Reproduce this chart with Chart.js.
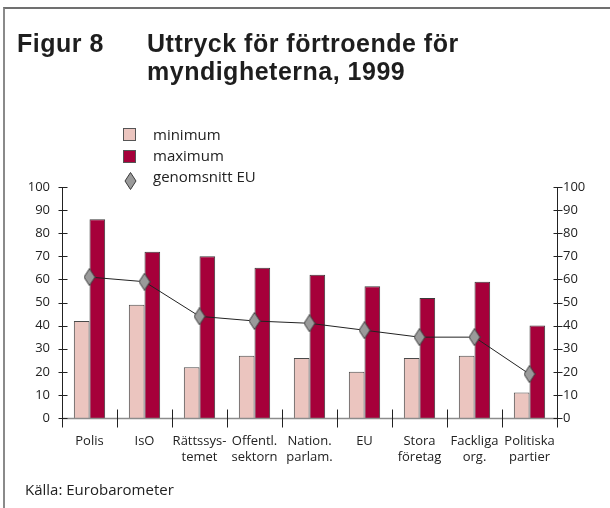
<!DOCTYPE html>
<html><head><meta charset="utf-8">
<script src="https://cdn.jsdelivr.net/npm/chart.js@4"></script>
<style>
html,body{margin:0;padding:0;background:#fff;}
#wrap{position:relative;width:610px;height:508px;overflow:hidden;font-family:"Open Sans",sans-serif;color:#222;}
#frame{position:absolute;left:3px;top:7px;right:-5px;bottom:-5px;border-top:2px solid #707070;border-left:2px solid #8a8a8a;}
#c{position:absolute;left:0;top:0;}
.t{position:absolute;font-family:"Liberation Sans",Arial,sans-serif;font-weight:bold;font-size:25px;letter-spacing:0.5px;line-height:28px;color:#1e1e1e;white-space:nowrap;}
.lg{position:absolute;font-size:15px;line-height:22px;white-space:nowrap;color:#222;}
.box{position:absolute;width:11px;height:11px;border:1px solid #555;}
</style></head>
<body>
<div id="wrap">
  <div id="frame"></div>
  <canvas id="c" width="610" height="508"></canvas>
  <div class="t" style="left:17px;top:29px;">Figur 8</div>
  <div class="t" style="left:147px;top:29px;">Uttryck för förtroende för<br>myndigheterna, 1999</div>
  <div class="box" style="left:123px;top:128px;background:#ebc5bf;"></div>
  <div class="lg" style="left:153px;top:123px;">minimum</div>
  <div class="box" style="left:123px;top:150px;background:#a6003a;"></div>
  <div class="lg" style="left:153px;top:144px;">maximum</div>
  <svg style="position:absolute;left:124px;top:172px;" width="13" height="18"><path d="M6.5 0.5 L12 9 L6.5 17.5 L1 9 Z" fill="#9a9a9a" stroke="#3a3a3a" stroke-width="1"/></svg>
  <div class="lg" style="left:153px;top:165px;">genomsnitt EU</div>
  <div class="lg" style="left:25px;top:478px;">Källa: Eurobarometer</div>
</div>
<script>
const categories = [['Polis'], ['IsO'], ['Rättssys-','temet'], ['Offentl.','sektorn'], ['Nation.','parlam.'], ['EU'], ['Stora','företag'], ['Fackliga','org.'], ['Politiska','partier']];
const minimumValues = [42, 49, 22, 27, 26, 20, 26, 27, 11];
const maximumValues = [86, 72, 70, 65, 62, 57, 52, 59, 40];
const euAverage = [61, 59, 44, 42, 41, 38, 35, 35, 19];
const yTicks = [0, 10, 20, 30, 40, 50, 60, 70, 80, 90, 100];

const diamond = document.createElement('canvas');
diamond.width = 12; diamond.height = 18;
(function(){
  const g = diamond.getContext('2d');
  g.beginPath();
  g.moveTo(6, 0.5); g.lineTo(11.5, 9); g.lineTo(6, 17.5); g.lineTo(0.5, 9); g.closePath();
  g.fillStyle = '#9a9a9a'; g.fill();
  g.strokeStyle = '#3a3a3a'; g.lineWidth = 1; g.stroke();
})();

const axesPlugin = {
  id: 'axesPlugin',
  afterDatasetsDraw(chart) {
    const ctx = chart.ctx, a = chart.chartArea;
    const x = chart.scales.x, y = chart.scales.y;
    const y0 = Math.round(y.getPixelForValue(0)) + 0.5;
    ctx.save();
    ctx.strokeStyle = '#8c8c8c'; ctx.lineWidth = 1.5;
    ctx.beginPath(); ctx.moveTo(a.left, y0); ctx.lineTo(a.right, y0); ctx.stroke();
    ctx.strokeStyle = '#222'; ctx.lineWidth = 1;
    const L = Math.round(a.left) + 0.5, R = Math.round(a.right) + 0.5;
    ctx.beginPath();
    ctx.moveTo(L, a.top); ctx.lineTo(L, y0 + 9);
    ctx.moveTo(R, a.top); ctx.lineTo(R, y0 + 9);
    yTicks.forEach(v => {
      const py = Math.round(y.getPixelForValue(v)) + 0.5;
      ctx.moveTo(L - 4, py); ctx.lineTo(L + 5, py);
      ctx.moveTo(R - 4, py); ctx.lineTo(R + 5, py);
    });
    for (let i = 1; i < categories.length; i++) {
      const px = Math.round((x.getPixelForValue(i - 1) + x.getPixelForValue(i)) / 2) + 0.5;
      ctx.moveTo(px, y0 - 9); ctx.lineTo(px, y0 + 9);
    }
    ctx.stroke();
    ctx.restore();
  }
};

const tickFont = { family: '"Open Sans", sans-serif', size: 13, lineHeight: '16px' };
const noGrid = { display: false, drawTicks: false };

new Chart(document.getElementById('c'), {
  type: 'bar',
  data: {
    labels: categories,
    datasets: [
      { type: 'line', label: 'genomsnitt EU', data: euAverage, order: 0, yAxisID: 'y',
        borderColor: '#222', borderWidth: 1, tension: 0, fill: false,
        pointStyle: diamond, pointRadius: 9, pointHoverRadius: 9 },
      { label: 'minimum', data: minimumValues, order: 1, yAxisID: 'y',
        backgroundColor: '#ebc5bf', borderColor: '#4a4a4a', borderWidth: 1,
        categoryPercentage: 0.57, barPercentage: 1 },
      { label: 'maximum', data: maximumValues, order: 2, yAxisID: 'y',
        backgroundColor: '#a6003a', borderColor: '#3a3a3a', borderWidth: 1,
        categoryPercentage: 0.57, barPercentage: 1 }
    ]
  },
  options: {
    responsive: false, animation: false, devicePixelRatio: 1,
    layout: { padding: { top: 187, left: 0, right: 0, bottom: 0 } },
    plugins: { legend: { display: false }, tooltip: { enabled: false }, title: { display: false } },
    scales: {
      x: {
        offset: true,
        grid: noGrid, border: { display: false },
        ticks: { font: tickFont, color: '#222', padding: 15, maxRotation: 0, autoSkip: false },
        afterFit(s) { s.height = 90; }
      },
      y: {
        position: 'left', min: 0, max: 100,
        grid: noGrid, border: { display: false },
        ticks: { stepSize: 10, font: tickFont, color: '#222', padding: 12 },
        afterFit(s) { s.width = 62; }
      },
      y2: {
        position: 'right', min: 0, max: 100,
        grid: noGrid, border: { display: false },
        ticks: { stepSize: 10, font: tickFont, color: '#222', padding: 6 },
        afterFit(s) { s.width = 53; }
      }
    }
  },
  plugins: [axesPlugin]
});
</script>
</body></html>
